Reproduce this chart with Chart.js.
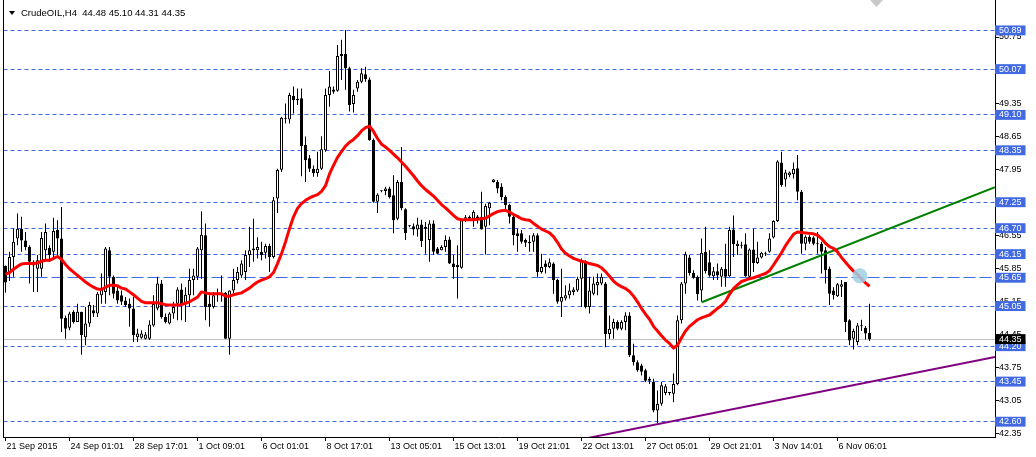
<!DOCTYPE html>
<html>
<head>
<meta charset="utf-8">
<script src="https://cdn.jsdelivr.net/npm/chart.js@4/dist/chart.umd.min.js"></script>
<style>
  html, body { margin: 0; padding: 0; background: #fff; }
  canvas { display: block; }
</style>
</head>
<body>
<canvas id="c" width="1036" height="457"></canvas>
<script>
// CrudeOIL H4, one entry per bar (bar 0 = 21 Sep 2015)
const symbol = 'CrudeOIL,H4';
const lastBar = [44.48, 45.10, 44.31, 44.35];

const open = [
  45.90, 45.74, 46.09, 46.48, 46.69, 46.44, 46.30, 45.99, 45.84, 45.84,
  46.23, 46.28, 46.20, 46.66, 46.48, 44.80, 44.59, 44.93, 44.71, 44.93,
  44.39, 44.68, 44.96, 44.89, 45.28, 45.35, 46.23, 45.67, 45.38, 45.28,
  45.17, 45.10, 45.00, 44.39, 44.38, 44.36, 44.36, 44.64, 45.00, 45.53,
  44.82, 44.68, 44.89, 45.10, 45.40, 45.10, 45.28, 45.60, 45.67, 46.23,
  46.55, 45.10, 45.03, 45.28, 45.30, 45.33, 44.36, 45.38, 45.60, 45.70,
  45.77, 46.13, 46.23, 46.23, 46.20, 46.18, 46.32, 46.09, 47.33, 47.94,
  49.02, 49.00, 49.50, 49.44, 49.45, 48.46, 48.18, 47.96, 47.87, 47.96,
  48.35, 49.52, 49.64, 49.61, 50.35, 50.39, 50.09, 49.33, 49.66, 49.80,
  49.96, 49.85, 48.57, 47.26, 47.48, 47.49, 47.54, 47.40, 46.90, 47.68,
  47.10, 46.74, 46.74, 46.67, 46.78, 46.73, 46.45, 46.80, 46.27, 46.23,
  46.30, 46.46, 45.95, 45.92, 45.86, 46.87, 46.90, 46.90, 46.95, 46.94,
  46.73, 47.12, 47.68, 47.68, 47.58, 47.36, 47.19, 46.94, 46.59, 46.59,
  46.45, 46.41, 46.41, 46.55, 45.77, 45.95, 45.88, 45.95, 45.60, 45.14,
  45.21, 45.28, 45.35, 45.38, 45.63, 45.98, 45.03, 45.31, 45.49, 45.53,
  45.53, 44.46, 44.57, 44.71, 44.57, 44.71, 44.85, 44.01, 43.86, 43.79,
  43.69, 43.47, 43.44, 42.84, 42.98, 43.21, 43.21, 43.19, 43.40, 44.75,
  45.53, 46.08, 45.75, 45.67, 45.38, 46.20, 45.98, 45.68, 45.79, 45.67,
  45.84, 45.68, 46.67, 46.32, 46.33, 46.36, 45.67, 46.25, 45.96, 46.08,
  46.15, 46.20, 46.50, 46.85, 48.09, 47.73, 47.82, 47.84, 47.97, 47.47,
  46.37, 46.52, 46.50, 46.36, 46.37, 46.23, 45.84, 45.38, 45.26, 45.46,
  45.56, 44.75, 44.36, 44.29, 44.62, 44.59, 44.48
];
const high = [
  45.91, 46.20, 46.69, 47.01, 46.94, 46.62, 46.34, 46.02, 46.13, 46.62,
  46.80, 46.34, 46.92, 46.87, 47.15, 44.85, 44.93, 44.96, 45.10, 44.93,
  45.03, 45.14, 45.07, 45.35, 45.74, 46.30, 46.30, 45.70, 45.49, 45.38,
  45.24, 45.21, 45.24, 44.57, 44.54, 44.50, 44.75, 45.28, 45.67, 45.60,
  44.89, 44.92, 45.14, 45.45, 45.53, 45.45, 45.84, 45.84, 46.30, 47.06,
  46.80, 45.28, 45.35, 45.42, 45.70, 45.35, 45.38, 45.84, 45.88, 46.02,
  46.23, 46.73, 46.90, 46.51, 46.41, 46.37, 46.37, 47.36, 47.96, 49.06,
  49.34, 49.57, 49.70, 49.66, 49.66, 48.64, 48.25, 48.03, 48.32, 48.65,
  49.66, 50.03, 49.70, 50.58, 50.69, 50.90, 50.12, 49.63, 49.84, 50.09,
  50.12, 49.89, 48.60, 47.44, 47.50, 47.58, 47.58, 47.82, 47.72, 48.42,
  47.12, 46.76, 46.80, 46.92, 46.88, 46.83, 46.87, 46.87, 46.30, 46.34,
  46.55, 46.52, 46.13, 46.34, 46.90, 46.98, 46.97, 47.08, 46.98, 47.47,
  47.22, 47.26, 47.74, 47.72, 47.65, 47.40, 47.22, 46.98, 46.69, 46.66,
  46.48, 46.55, 46.59, 46.59, 46.16, 46.02, 46.06, 45.98, 45.63, 45.84,
  45.49, 45.53, 45.45, 45.67, 46.06, 46.02, 45.67, 45.67, 45.74, 45.74,
  45.56, 44.85, 44.78, 44.75, 44.75, 44.92, 44.92, 44.25, 43.90, 43.83,
  43.72, 43.55, 43.51, 43.26, 43.44, 43.40, 43.23, 43.62, 44.85, 45.56,
  46.20, 46.13, 45.81, 45.70, 46.48, 46.73, 46.23, 45.88, 45.95, 45.88,
  46.37, 46.73, 46.97, 46.44, 46.41, 46.59, 46.27, 46.69, 46.41, 46.20,
  46.20, 46.59, 46.87, 48.14, 48.32, 47.94, 47.90, 48.09, 48.25, 47.51,
  46.55, 46.55, 46.53, 46.62, 46.41, 46.30, 45.89, 45.45, 45.54, 45.60,
  45.56, 44.77, 44.57, 44.69, 44.76, 44.63, 45.10
];
const low = [
  45.33, 45.58, 45.67, 46.34, 46.20, 46.23, 45.53, 45.35, 45.35, 45.67,
  46.02, 45.99, 46.09, 46.09, 44.50, 44.36, 44.54, 44.68, 44.71, 44.02,
  44.22, 44.61, 44.82, 44.82, 45.10, 45.10, 45.28, 45.21, 45.10, 45.07,
  45.03, 44.61, 44.29, 44.29, 44.36, 44.34, 44.33, 44.61, 44.96, 44.78,
  44.68, 44.66, 44.78, 44.75, 44.75, 44.71, 45.03, 45.28, 45.60, 45.63,
  44.75, 44.61, 45.00, 45.14, 45.14, 44.36, 44.02, 45.31, 45.53, 45.65,
  45.60, 45.88, 45.99, 46.06, 46.02, 46.06, 45.77, 46.06, 47.02, 47.89,
  48.92, 48.92, 49.13, 49.31, 47.80, 47.68, 47.89, 47.79, 47.79, 47.93,
  48.32, 49.27, 49.55, 49.59, 49.84, 49.63, 49.17, 49.15, 49.59, 49.77,
  49.80, 48.55, 47.24, 47.02, 47.46, 47.40, 47.33, 46.59, 46.87, 47.08,
  46.45, 46.72, 46.55, 46.52, 46.30, 46.16, 45.99, 46.13, 46.15, 46.23,
  46.20, 45.94, 45.63, 45.21, 45.84, 46.83, 46.85, 46.73, 46.80, 46.67,
  46.14, 46.76, 47.67, 47.44, 47.29, 47.08, 46.80, 46.34, 46.20, 46.37,
  46.30, 46.20, 46.20, 45.67, 45.74, 45.74, 45.85, 45.31, 45.10, 44.82,
  45.17, 45.21, 45.28, 45.35, 45.03, 45.00, 44.89, 45.28, 45.28, 45.49,
  44.18, 44.36, 44.36, 44.54, 44.54, 44.54, 43.97, 43.79, 43.66, 43.58,
  43.44, 43.40, 42.80, 42.56, 42.94, 43.16, 43.16, 43.01, 43.37, 44.68,
  45.31, 45.70, 45.63, 45.17, 45.14, 45.74, 45.67, 45.60, 45.60, 45.46,
  45.46, 45.67, 46.09, 46.13, 46.27, 45.67, 45.65, 45.77, 45.94, 46.06,
  46.11, 46.18, 46.48, 46.83, 47.58, 47.58, 47.78, 47.75, 47.29, 46.16,
  46.23, 46.37, 46.34, 46.16, 45.74, 45.53, 45.07, 45.19, 45.24, 45.24,
  44.50, 44.22, 44.13, 44.22, 44.52, 44.34, 44.31
];
const close = [
  45.55, 46.09, 46.41, 46.69, 46.44, 46.30, 45.99, 45.91, 46.02, 46.49,
  46.62, 46.13, 46.64, 46.48, 44.78, 44.57, 44.89, 44.71, 44.93, 44.43,
  44.68, 45.07, 44.89, 45.31, 45.42, 46.27, 45.67, 45.31, 45.17, 45.14,
  45.07, 45.00, 44.43, 44.47, 44.47, 44.45, 44.66, 45.10, 45.53, 44.82,
  44.71, 44.89, 45.03, 45.40, 45.07, 45.29, 45.60, 45.70, 46.27, 46.56,
  45.03, 45.03, 45.28, 45.28, 45.31, 44.36, 45.38, 45.60, 45.77, 45.95,
  46.13, 46.23, 46.27, 46.30, 46.13, 46.32, 46.09, 47.29, 47.93, 49.04,
  49.04, 49.52, 49.41, 49.41, 48.44, 48.14, 47.96, 47.87, 47.96, 48.37,
  49.52, 49.70, 49.59, 50.35, 50.39, 50.09, 49.31, 49.52, 49.80, 49.98,
  49.86, 48.57, 47.26, 47.41, 47.48, 47.54, 47.36, 46.87, 47.68, 47.12,
  46.59, 46.74, 46.67, 46.78, 46.43, 46.69, 46.80, 46.20, 46.16, 46.30,
  46.45, 45.95, 45.88, 45.87, 46.87, 46.93, 46.94, 47.05, 46.87, 46.67,
  47.17, 47.24, 47.73, 47.54, 47.36, 47.19, 46.94, 46.55, 46.53, 46.41,
  46.39, 46.38, 46.55, 45.77, 45.88, 45.88, 45.98, 45.60, 45.14, 45.24,
  45.28, 45.38, 45.40, 45.63, 46.02, 45.03, 45.38, 45.53, 45.56, 45.67,
  44.46, 44.57, 44.71, 44.57, 44.71, 44.85, 44.01, 43.86, 43.69, 43.66,
  43.47, 43.51, 42.84, 42.98, 43.37, 43.35, 43.21, 43.40, 44.75, 45.53,
  46.15, 45.75, 45.65, 45.30, 46.18, 45.79, 45.70, 45.79, 45.70, 45.84,
  45.67, 46.66, 46.36, 46.37, 46.35, 45.68, 46.25, 45.96, 46.08, 46.18,
  46.16, 46.48, 46.85, 48.11, 47.61, 47.88, 47.88, 47.96, 47.47, 46.37,
  46.52, 46.41, 46.37, 46.37, 46.20, 45.81, 45.31, 45.28, 45.51, 45.51,
  44.71, 44.32, 44.52, 44.64, 44.63, 44.47, 44.35
];
// moving average (red)
const ma = [
  45.72, 45.76, 45.83, 45.89, 45.94, 45.95, 45.95, 45.95, 45.96, 46.00,
  46.02, 46.02, 46.06, 46.10, 46.04, 45.93, 45.84, 45.77, 45.70, 45.63,
  45.56, 45.50, 45.45, 45.41, 45.40, 45.45, 45.49, 45.49, 45.48, 45.43,
  45.41, 45.35, 45.29, 45.22, 45.15, 45.12, 45.12, 45.12, 45.12, 45.10,
  45.08, 45.07, 45.07, 45.07, 45.08, 45.11, 45.14, 45.19, 45.24, 45.35,
  45.33, 45.31, 45.31, 45.31, 45.31, 45.26, 45.26, 45.29, 45.31, 45.33,
  45.38, 45.43, 45.50, 45.56, 45.60, 45.63, 45.67, 45.76, 45.95, 46.16,
  46.41, 46.69, 46.94, 47.12, 47.22, 47.29, 47.34, 47.38, 47.41, 47.48,
  47.60, 47.85, 48.03, 48.20, 48.32, 48.44, 48.52, 48.58, 48.66, 48.76,
  48.83, 48.86, 48.75, 48.60, 48.48, 48.42, 48.35, 48.27, 48.19, 48.10,
  48.01, 47.91, 47.81, 47.70, 47.60, 47.52, 47.45, 47.38, 47.29, 47.20,
  47.13, 47.05, 46.97, 46.90, 46.88, 46.88, 46.88, 46.88, 46.89, 46.90,
  46.91, 46.96, 47.01, 47.05, 47.07, 47.08, 47.04, 46.99, 46.95, 46.90,
  46.88, 46.87, 46.80, 46.74, 46.68, 46.64, 46.60, 46.52, 46.40, 46.26,
  46.17, 46.11, 46.06, 46.03, 46.00, 45.98, 45.95, 45.93, 45.91, 45.86,
  45.78, 45.68, 45.58, 45.51, 45.46, 45.42, 45.36, 45.26, 45.14, 45.00,
  44.88, 44.77, 44.62, 44.52, 44.42, 44.33, 44.26, 44.16, 44.22, 44.38,
  44.52, 44.62, 44.69, 44.76, 44.80, 44.83, 44.86, 44.93, 45.00, 45.06,
  45.15, 45.30, 45.42, 45.50, 45.57, 45.60, 45.63, 45.65, 45.68, 45.71,
  45.74, 45.80, 45.92, 46.05, 46.18, 46.33, 46.45, 46.57, 46.62, 46.61,
  46.60, 46.59, 46.58, 46.55, 46.48, 46.38, 46.31, 46.27, 46.20, 46.08,
  45.98, 45.88, 45.79, 45.72, 45.62, 45.54, 45.47
];

const timeLabels = ['21 Sep 2015', '24 Sep 01:01', '28 Sep 17:01', '1 Oct 09:01', '6 Oct 01:01',
  '8 Oct 17:01', '13 Oct 05:01', '15 Oct 13:01', '19 Oct 21:01', '22 Oct 13:01',
  '27 Oct 05:01', '29 Oct 21:01', '3 Nov 14:01', '6 Nov 06:01'];
const timeLabelBars = [0, 16, 32, 48, 64, 80, 96, 112, 128, 144, 160, 176, 192, 208];

const priceTicks = [42.35, 43.05, 43.75, 44.45, 45.15, 45.85, 46.55, 47.25, 47.95, 48.65, 49.35, 50.05, 50.75];
const levels = [50.89, 50.07, 49.10, 48.35, 47.25, 46.70, 46.15, 45.65, 45.05, 44.20, 43.45, 42.60];
const longDashLevels = [45.65];
const bid = 44.35;

// trend lines: [bar, price] end points
const greenLine = [[174.05, 45.13], [247.375, 47.57]];
const purpleLine = [[140, 42.16], [247.375, 43.97]];
const marker = [213.6, 45.69];

const FONT = 'Liberation Sans';
Chart.defaults.font.family = FONT;
Chart.defaults.font.size = 9;
Chart.defaults.color = '#000';

const bars = open.map((o, i) => i);
const bull = bars.map(i => close[i] >= open[i]);

// y axis ticks: regular grid prices, then level boxes, then bid box
const yTicks = priceTicks.map(v => ({ v, kind: 'reg' }))
  .concat(levels.map(v => ({ v, kind: 'lvl' })))
  .concat([{ v: bid, kind: 'bid' }]);
const kindAt = ctx => (ctx.index !== undefined && yTicks[ctx.index]) ? yTicks[ctx.index].kind : null;

const overlay = {
  id: 'overlay',
  afterDraw(chart) {
    const c = chart.ctx;
    c.save();
    c.fillStyle = '#000';
    c.beginPath();
    c.moveTo(9, 11); c.lineTo(15, 11); c.lineTo(12, 15); c.closePath(); c.fill();
    c.font = '9.5px "' + FONT + '"';
    c.textBaseline = 'middle';
    c.fillText(symbol + '  ' + lastBar.map(v => v.toFixed(2)).join(' '), 21, 13);
    c.fillStyle = '#c8c8c8';
    c.beginPath();
    c.moveTo(870, 0); c.lineTo(883, 0); c.lineTo(876.5, 7); c.closePath(); c.fill();
    c.restore();
  }
};

new Chart(document.getElementById('c'), {
  type: 'bar',
  data: {
    datasets: [
      {
        type: 'line', order: 0, yAxisID: 'y', clip: false,
        data: [{ x: marker[0], y: marker[1] }],
        showLine: false, pointRadius: 7.5, pointBorderWidth: 0,
        pointBackgroundColor: 'rgba(160, 208, 228, 0.85)'
      },
      {
        type: 'line', order: 1, yAxisID: 'y', clip: 0,
        data: bars.map(i => ({ x: i, y: ma[i] })),
        borderColor: '#ff0000', borderWidth: 3, pointRadius: 0, tension: 0,
        borderJoinStyle: 'round'
      },
      {
        type: 'line', order: 2, yAxisID: 'y', clip: 0,
        data: greenLine.map(p => ({ x: p[0], y: p[1] })),
        borderColor: '#008000', borderWidth: 2, pointRadius: 0
      },
      {
        type: 'line', order: 3, yAxisID: 'y', clip: 0,
        data: purpleLine.map(p => ({ x: p[0], y: p[1] })),
        borderColor: '#800080', borderWidth: 2, pointRadius: 0
      },
      {
        order: 4, yAxisID: 'y', grouped: false,
        data: bars.map(i => ({ x: i, y: [open[i], close[i]] })),
        barThickness: 3, minBarLength: 1, inflateAmount: 0,
        borderWidth: 1, borderSkipped: false, borderColor: '#000',
        backgroundColor: bars.map(i => bull[i] ? '#fff' : '#000')
      },
      {
        order: 5, yAxisID: 'y', grouped: false,
        data: bars.map(i => ({ x: i, y: [low[i], high[i]] })),
        barThickness: 1, inflateAmount: 0, borderWidth: 0,
        backgroundColor: '#000'
      }
    ]
  },
  options: {
    responsive: false,
    devicePixelRatio: 1,
    animation: false,
    events: [],
    layout: { autoPadding: false, padding: { left: 3.5, top: 0, right: 0, bottom: 0 } },
    plugins: { legend: { display: false }, tooltip: { enabled: false }, title: { display: false } },
    scales: {
      x: {
        type: 'linear', position: 'bottom', offset: false,
        min: -0.5, max: 247.375,
        afterBuildTicks: s => { s.ticks = timeLabelBars.map(v => ({ value: v })); },
        afterFit: s => { s.height = 20; s.paddingLeft = 0; s.paddingRight = 0; },
        ticks: {
          autoSkip: false, maxRotation: 0, minRotation: 0, align: 'start', labelOffset: 1, padding: 0,
          font: { size: 9 },
          callback: v => { const k = timeLabelBars.indexOf(v); return k >= 0 ? timeLabels[k] : null; }
        },
        grid: { drawOnChartArea: false, offset: false, tickLength: 4, color: '#000' },
        border: { color: '#000', width: 1 }
      },
      y: {
        type: 'linear', position: 'right',
        min: 42.276, max: 51.534,
        afterBuildTicks: s => { s.ticks = yTicks.map(t => ({ value: t.v })); },
        afterFit: s => { s.width = 41; s.paddingTop = 0; s.paddingBottom = 0; },
        ticks: {
          autoSkip: false, padding: 0,
          font: { size: 9, lineHeight: 1.1 },
          callback: v => v.toFixed(2),
          color: ctx => kindAt(ctx) === 'reg' ? '#000' : '#fff',
          showLabelBackdrop: ctx => kindAt(ctx) === 'lvl' || kindAt(ctx) === 'bid',
          backdropColor: ctx => kindAt(ctx) === 'bid' ? '#000' : '#4169e1',
          backdropPadding: { left: 4, right: 4, top: 0, bottom: 0 }
        },
        grid: {
          tickLength: 4, lineWidth: 1,
          color: ctx => {
            const k = kindAt(ctx);
            return k === 'lvl' ? '#4169e1' : k === 'bid' ? '#c0c0c0' : 'rgba(0,0,0,0)';
          },
          tickColor: ctx => kindAt(ctx) === 'reg' ? '#000' : 'rgba(0,0,0,0)'
        },
        border: {
          color: '#000', width: 1,
          dash: ctx => {
            if (kindAt(ctx) !== 'lvl') return [];
            return longDashLevels.includes(yTicks[ctx.index].v) ? [12, 4] : [4, 3];
          }
        }
      },
      yl: {
        type: 'linear', position: 'left', min: 0, max: 1,
        afterFit: s => { s.width = 0; s.paddingTop = 0; s.paddingBottom = 0; },
        ticks: { display: false },
        grid: { display: false, drawTicks: false },
        border: { display: true, color: '#000', width: 1 }
      }
    }
  },
  plugins: [overlay]
});
</script>
</body>
</html>
